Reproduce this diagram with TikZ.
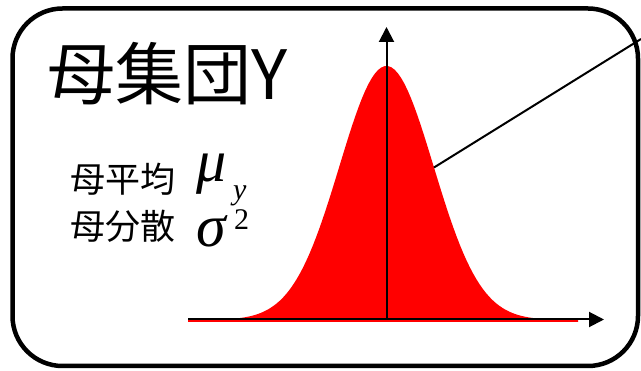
\documentclass[tikz,border=0pt]{standalone}
\usepackage{fontspec}
\usetikzlibrary{arrows.meta}
\newfontfamily\cjk{Noto Sans CJK JP}
\newfontfamily\tms{Liberation Serif}

\begin{document}
\begin{tikzpicture}[
        x=1pt, y=-1pt,
        frame/.style={draw=black, line width=4.5pt, rounded corners=50pt},
        title/.style={inner sep=0pt, font=\cjk\fontsize{68}{68}\selectfont},
        lbl/.style={inner sep=0pt, font=\cjk\fontsize{35}{35}\selectfont},
        sym/.style={inner sep=0pt, anchor=base west, font=\tms\itshape\fontsize{60}{60}\selectfont},
        idx/.style={inner sep=0pt, anchor=base west, font=\tms\fontsize{30}{30}\selectfont},
        axis/.style={-{Triangle[length=15pt, width=15pt]}, line width=2pt},
        pointer/.style={line width=2pt}
    ]
        \useasboundingbox (0,0) rectangle (641,371);
        % Frame
        \draw[frame] (12.5,8.5) rectangle (638,366);

        % Bell curve
        \fill[red] plot[domain=188:578, samples=120] (\x, {320 - 254*exp(-((\x-386.5)/47)*((\x-386.5)/47)/2)}) -- (578,322) -- (188,322) -- cycle;

        % Axes
        \coordinate (xs) at (188,319.5);
        \coordinate (xe) at (604,319.5);
        \coordinate (ys) at (386.5,320);
        \coordinate (ye) at (386.5,27);
        \draw[axis] (xs) -- (xe);
        \draw[axis] (ys) -- (ye);

        % Texts
        \node[title] (ttl) at (168,74) {母集団Y};
        \node[lbl] (mlbl) at (123,179) {母平均};
        \node[lbl] (vlbl) at (123,226) {母分散};
        \node[sym] (mu) at (196,182) {μ};
        \node[idx, font=\tms\itshape\fontsize{30}{30}\selectfont] (muy) at (233,200) {y};
        \node[sym] (sig) at (196,247) {σ};
        \node[idx] (sigsq) at (234,230) {2};

        % Pointer
        \coordinate (pt) at (434,167.5);
        \coordinate (tail) at (641,39);
        \draw[pointer] (pt) -- (tail);
    \end{tikzpicture}
\end{document}
